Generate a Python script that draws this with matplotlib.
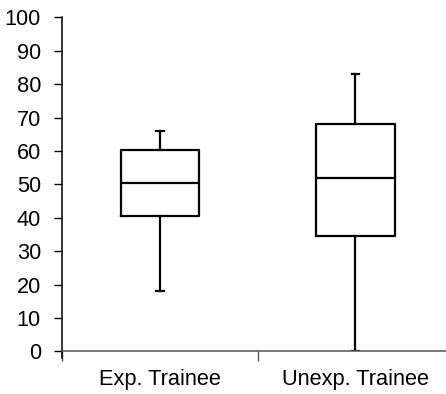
import matplotlib.pyplot as plt

categories = ['Exp. Trainee', 'Unexp. Trainee']
whisker_low = [18, 0]
q1 = [40.5, 34.5]
medians = [50.5, 52]
q3 = [60.3, 68]
whisker_high = [66, 83]

stats = []
for i, name in enumerate(categories):
    stats.append({'label': name, 'whislo': whisker_low[i], 'q1': q1[i],
                  'med': medians[i], 'q3': q3[i], 'whishi': whisker_high[i],
                  'fliers': []})

plt.rcParams['font.family'] = ['Liberation Sans', 'DejaVu Sans']

fig = plt.figure(figsize=(4.46, 3.94), dpi=100)
ax = fig.add_axes([0.140, 0.108, 0.876, 0.848])

lw = 1.6
ax.bxp(stats, positions=[1, 2], widths=0.4, showfliers=False,
       boxprops=dict(color='black', linewidth=lw),
       medianprops=dict(color='black', linewidth=lw),
       whiskerprops=dict(color='black', linewidth=lw),
       capprops=dict(color='black', linewidth=lw),
       capwidths=0.04)

ax.set_xlim(0.5, 2.5)
ax.set_ylim(0, 100)
ax.set_yticks(range(0, 101, 10))

# category boundaries get tick marks, names sit between them
ax.set_xticks([0.5, 1.5, 2.5])
ax.set_xticklabels(['', '', ''])
ax.set_xticks([1, 2], minor=True)
ax.set_xticklabels(categories, minor=True)
ax.tick_params(axis='x', which='minor', length=0, pad=12.5, labelsize=15.7)
ax.tick_params(axis='x', which='major', length=7, width=1, color='#555555')
ax.tick_params(axis='y', length=6, width=1, pad=9.5, labelsize=15.7)

for s in ['top', 'right']:
    ax.spines[s].set_visible(False)
ax.spines['left'].set_linewidth(1.1)
ax.spines['bottom'].set_linewidth(1.1)
ax.spines['bottom'].set_color('#555555')

# left spine runs a little below the x axis
ax.plot([0.5, 0.5], [0, -2], color='black', linewidth=1.1, clip_on=False)

fig.savefig('out.png', dpi=100)
